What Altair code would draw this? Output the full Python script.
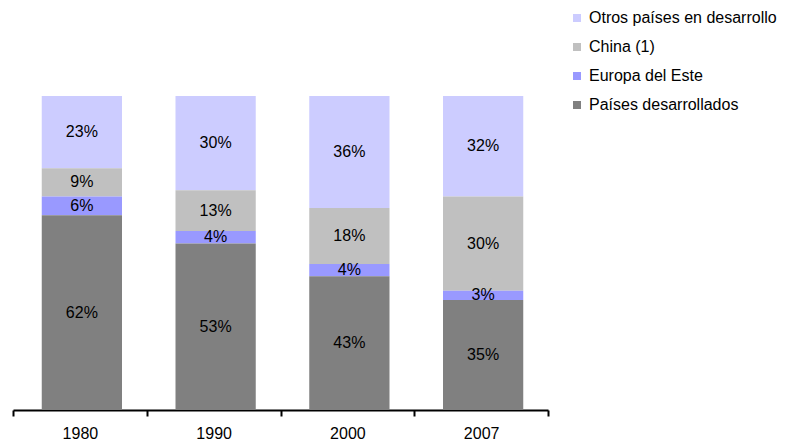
import altair as alt
import pandas as pd

years = ["1980", "1990", "2000", "2007"]
series = ["Otros países en desarrollo", "China (1)", "Europa del Este", "Países desarrollados"]
colors = ["#CCCCFF", "#C0C0C0", "#9999FF", "#808080"]
otros = [23, 30, 36, 32]
china = [9, 13, 18, 30]
europa = [6, 4, 4, 3]
desarrollados = [62, 53, 43, 35]

vals = {series[0]: otros, series[1]: china, series[2]: europa, series[3]: desarrollados}
stack_order = {series[3]: 0, series[2]: 1, series[1]: 2, series[0]: 3}
rows = []
for s in series:
    for i, y in enumerate(years):
        rows.append({"year": y, "serie": s, "value": vals[s][i], "ord": stack_order[s],
                     "label": f"{vals[s][i]}%"})
df = pd.DataFrame(rows)

base = alt.Chart(df).transform_stack(
    stack="value", groupby=["year"], as_=["y0", "y1"],
    sort=[alt.SortField("ord", order="ascending")], offset="normalize"
).transform_calculate(mid="(datum.y0 + datum.y1) / 2")

xscale = alt.Scale(paddingInner=0, paddingOuter=0)
x = alt.X("year:N", sort=years, title=None, scale=xscale,
          axis=alt.Axis(domainColor="black", domainWidth=2, tickColor="black", tickWidth=2,
                        tickSize=6, tickBand="extent", labelAngle=0, labelFontSize=16,
                        labelFont="Liberation Sans", labelColor="black", labelPadding=9,
                        grid=False))
yscale = alt.Scale(domain=[0, 1])

bars = base.mark_bar(width=alt.RelativeBandSize(0.6), xOffset=2).encode(
    x=x,
    y=alt.Y("y0:Q", scale=yscale, axis=None),
    y2="y1:Q",
    color=alt.Color("serie:N", scale=alt.Scale(domain=series, range=colors),
                    legend=alt.Legend(title=None, orient="none", legendX=556, legendY=-86,
                                      symbolType="square", symbolSize=64, symbolStrokeWidth=0,
                                      labelFontSize=16, labelFont="Liberation Sans",
                                      labelColor="black", rowPadding=13, labelOffset=4,
                                      labelLimit=0)),
)

text = base.mark_text(fontSize=16, font="Liberation Sans", color="black", dx=2).encode(
    x=alt.X("year:N", sort=years, scale=xscale),
    y=alt.Y("mid:Q", scale=yscale),
    text="label:N",
)

chart = (bars + text).properties(
    width=535, height=314,
    autosize=alt.AutoSizeParams(type="none"),
    padding={"left": 5, "top": 88, "right": 250, "bottom": 37},
).configure_view(stroke=None)

chart.save("out.html", embed_options={"renderer": "svg", "actions": False})
